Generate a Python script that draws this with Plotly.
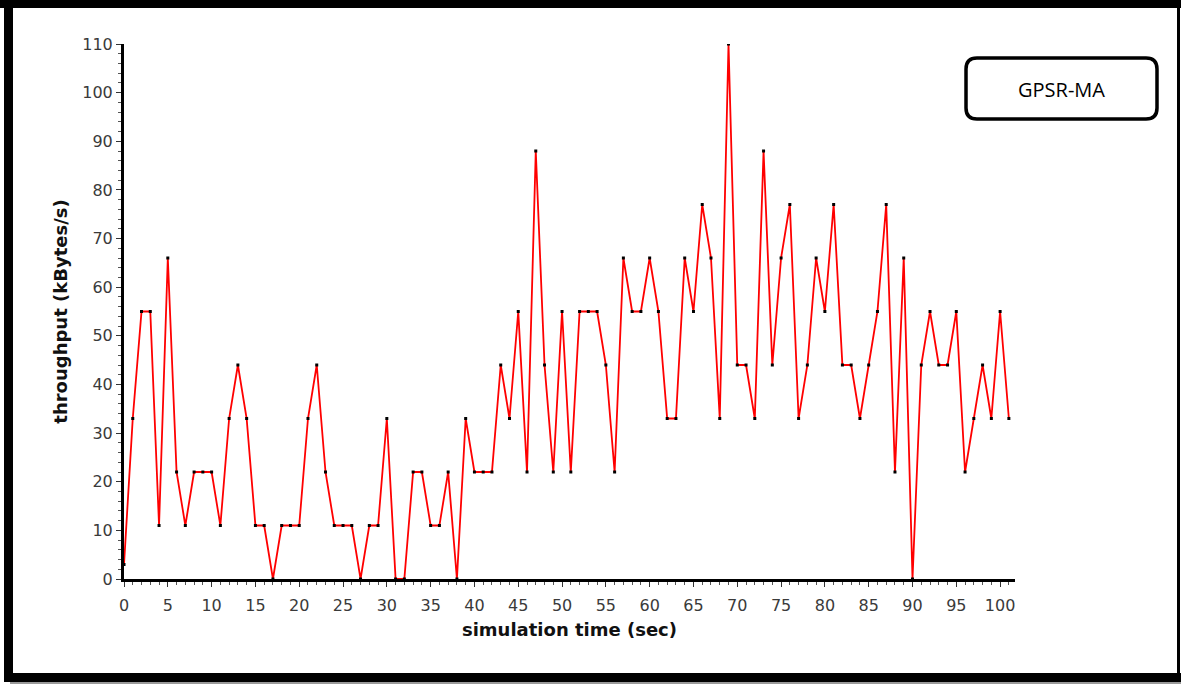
import plotly.graph_objects as go

# ---- data ----
time_sec = list(range(0, 102))
throughput = [3, 33, 55, 55, 11, 66, 22, 11, 22, 22,
              22, 11, 33, 44, 33, 11, 11, 0, 11, 11,
              11, 33, 44, 22, 11, 11, 11, 0, 11, 11,
              33, 0, 0, 22, 22, 11, 11, 22, 0, 33,
              22, 22, 22, 44, 33, 55, 22, 88, 44, 22,
              55, 22, 55, 55, 55, 44, 22, 66, 55, 55,
              66, 55, 33, 33, 66, 55, 77, 66, 33, 110,
              44, 44, 33, 88, 44, 66, 77, 33, 44, 66,
              55, 77, 44, 44, 33, 44, 55, 77, 22, 66,
              0, 44, 55, 44, 44, 55, 22, 33, 44, 33,
              55, 33]
series_name = "GPSR-MA"
x_title = "simulation time (sec)"
y_title = "throughput (kBytes/s)"

W, H = 1181, 684
L, R, T, B = 124, 1181 - 1015, 44, 684 - 579
PW = W - L - R
PH = H - T - B


def px(x):
    return (x - L) / PW


def py(y):
    return (H - B - y) / PH


fig = go.Figure()
fig.add_trace(go.Scatter(
    x=time_sec, y=throughput, mode="lines+markers", name=series_name,
    line=dict(color="#ff0000", width=1.8),
    marker=dict(color="black", size=3, symbol="square"),
    showlegend=False,
))

tick_font = dict(family="DejaVu Sans", size=16, color="#3a3a3a")
title_font = dict(family="DejaVu Sans", size=18, color="#111111")

fig.update_xaxes(
    range=[0, 101.7], tickmode="array", tickvals=list(range(0, 101, 5)),
    ticks="outside", ticklen=5, tickwidth=1, tickcolor="#333",
    minor=dict(dtick=1, ticks="outside", ticklen=3, tickcolor="#555", tick0=0),
    showline=True, linecolor="black", linewidth=3, showgrid=False, zeroline=False,
    tickfont=tick_font, ticklabelstandoff=5,
    title=dict(text="<b>" + x_title + "</b>", font=title_font, standoff=10),
)
fig.update_yaxes(
    range=[0, 110], tickmode="array", tickvals=list(range(0, 111, 10)),
    ticks="outside", ticklen=5, tickwidth=1, tickcolor="#333",
    minor=dict(dtick=2, ticks="outside", ticklen=3, tickcolor="#555", tick0=0),
    showline=True, linecolor="black", linewidth=3, showgrid=False, zeroline=False,
    tickfont=tick_font,
    title=dict(text="<b>" + y_title + "</b>", font=title_font, standoff=10),
)

shapes = []


def rect(x0, y0, x1, y1, color):
    shapes.append(dict(type="rect", xref="paper", yref="paper",
                       x0=px(x0), x1=px(x1), y0=py(y1), y1=py(y0),
                       fillcolor=color, line=dict(width=0), layer="above"))


# outer frame
rect(0, 0, 1181, 8, "black")
rect(4, 0, 13, 682, "black")
rect(4, 673, 1181, 682, "black")
rect(1177, 0, 1180, 682, "black")
rect(10, 682, 1181, 684, "#9a9a9a")

# rounded legend box
x0, y0, x1, y1, r = 966, 58, 1157, 119, 11
pts = [
    ("M", [(x0 + r, y0)]),
    ("L", [(x1 - r, y0)]),
    ("Q", [(x1, y0), (x1, y0 + r)]),
    ("L", [(x1, y1 - r)]),
    ("Q", [(x1, y1), (x1 - r, y1)]),
    ("L", [(x0 + r, y1)]),
    ("Q", [(x0, y1), (x0, y1 - r)]),
    ("L", [(x0, y0 + r)]),
    ("Q", [(x0, y0), (x0 + r, y0)]),
]
path = ""
for cmd, ps in pts:
    path += cmd + " " + " ".join(f"{px(a):.5f},{py(b):.5f}" for a, b in ps) + " "
path += "Z"
shapes.append(dict(type="path", xref="paper", yref="paper", path=path,
                   fillcolor="white", line=dict(color="black", width=3.5),
                   layer="above"))

fig.update_layout(
    width=W, height=H,
    margin=dict(l=L, r=R, t=T, b=B, pad=0),
    paper_bgcolor="white", plot_bgcolor="white",
    shapes=shapes,
    annotations=[dict(text=series_name, xref="paper", yref="paper",
                      x=px(1061.5), y=py(89), showarrow=False,
                      xanchor="center", yanchor="middle",
                      font=dict(family="Open Sans", size=20, color="black"))],
)

fig.write_html("out.html", config={"displayModeBar": False},
               post_script="document.body.style.margin='0';document.body.style.overflow='hidden';")
